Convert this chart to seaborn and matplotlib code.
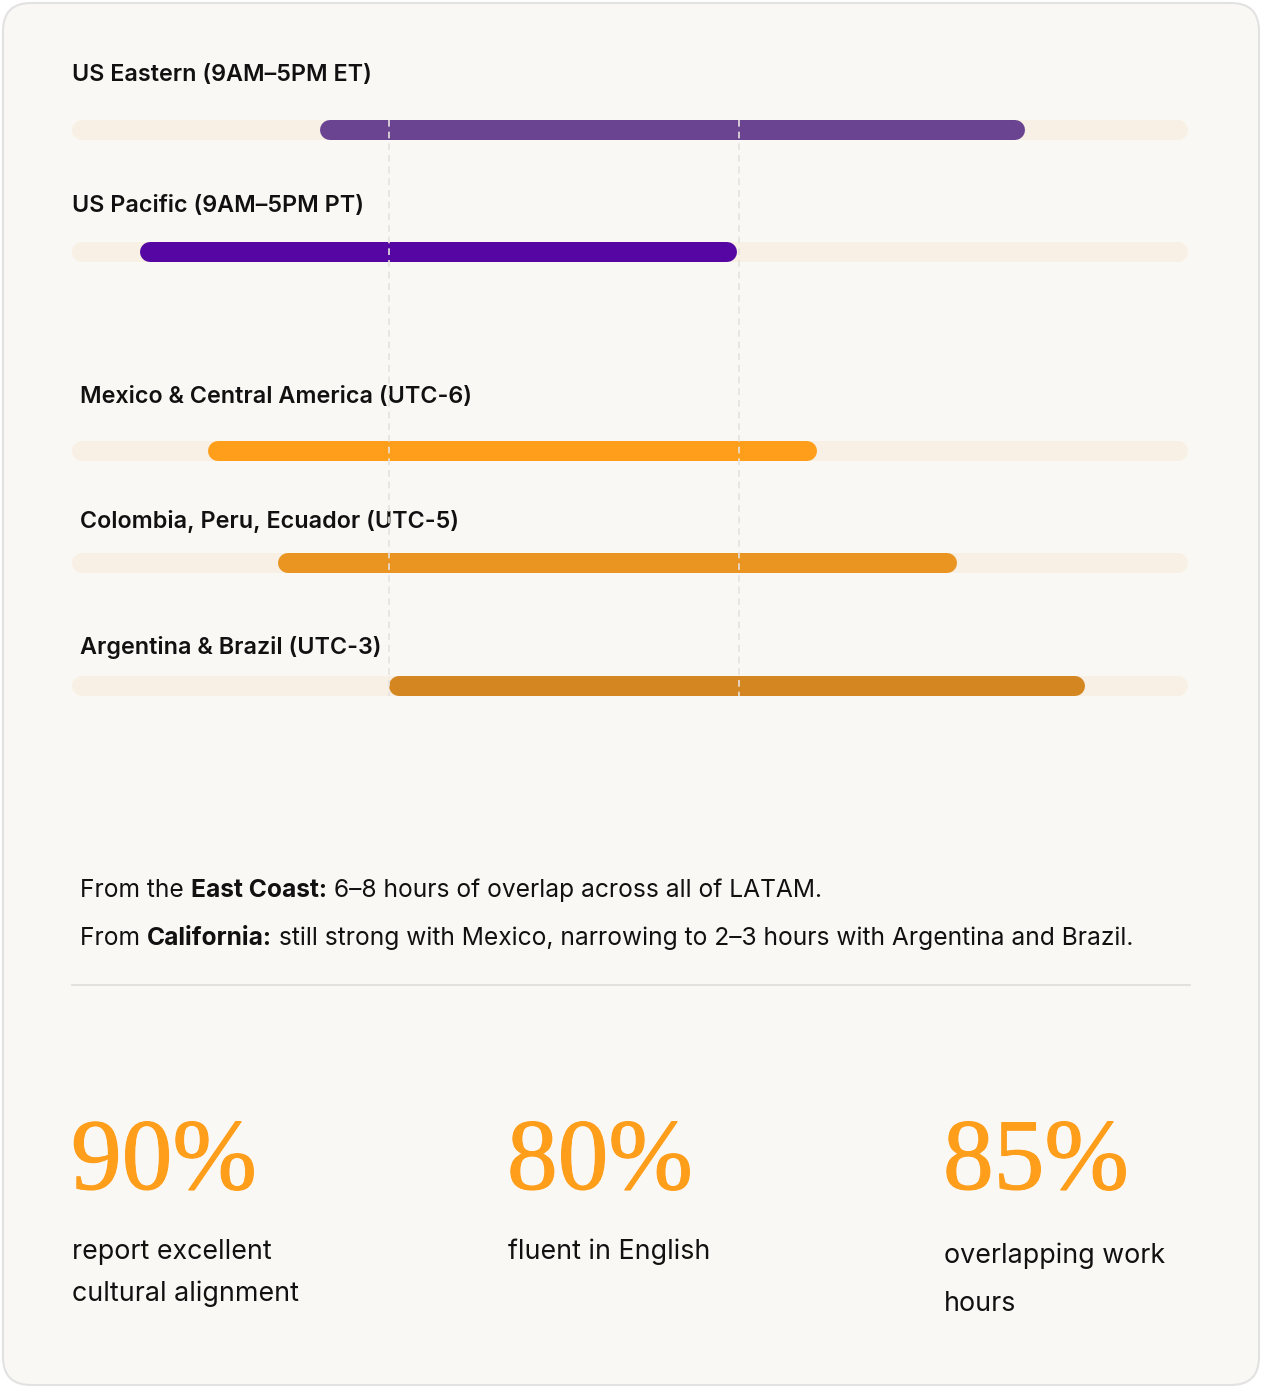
import numpy as np
import pandas as pd
import matplotlib.pyplot as plt
import seaborn as sns
from matplotlib.patches import FancyBboxPatch
import matplotlib.patheffects as pe

# ---- data -------------------------------------------------------------
regions = ["US Eastern (9AM\u20135PM ET)", "US Pacific (9AM\u20135PM PT)",
           "Mexico & Central America (UTC-6)", "Colombia, Peru, Ecuador (UTC-5)",
           "Argentina & Brazil (UTC-3)"]
# share of the track (0-100) covered by the working window
start = [22.2, 6.1, 12.2, 18.5, 28.4]
end = [85.4, 59.6, 66.8, 79.3, 90.8]
colors = ["#6a4391", "#5606a3", "#ff9e1b", "#ea9422", "#d48620"]
overlap_marks = [28.4, 59.8]

notes = [[("From the ", "normal"), ("East Coast:", "bold"),
          (" 6\u20138 hours of overlap across all of LATAM.", "normal")],
         [("From ", "normal"), ("California:", "bold"),
          (" still strong with Mexico, narrowing to 2\u20133 hours with Argentina and Brazil.", "normal")]]

stat_values = ["90%", "80%", "85%"]
stat_captions = [["report excellent", "cultural alignment"],
                 ["fluent in English"],
                 ["overlapping work", "hours"]]

# ---- layout (pixels) --------------------------------------------------
W, H = 1262, 1388
track_x0, track_x1 = 72, 1188
row_y = [130, 252, 451, 563, 686]
label_pos = [(72, 75), (72, 206), (80, 397), (80, 521), (80, 647)]
bar_px = 20

sns.set_theme(style="white")
plt.rcParams["font.family"] = ["Inter", "DejaVu Sans"]

fig = plt.figure(figsize=(W / 100, H / 100), dpi=100)
fig.patch.set_facecolor("white")

lay = fig.add_axes([0, 0, 1, 1])
lay.set_xlim(0, W)
lay.set_ylim(H, 0)
lay.axis("off")

card = FancyBboxPatch((3, 3), W - 6, H - 6, boxstyle="round,pad=0,rounding_size=28",
                      facecolor="#faf8f4", edgecolor="#e2e2e2", linewidth=1.5, zorder=0)
lay.add_patch(card)

ax = fig.add_axes([track_x0 / W, 0, (track_x1 - track_x0) / W, 1])
ax.set_xlim(0, 100)
ax.set_ylim(H, 0)
ax.axis("off")
ax.patch.set_alpha(0)

lw_pt = bar_px * 72 / 100
cap = (bar_px / 2) / (track_x1 - track_x0) * 100

df = pd.DataFrame({"region": regions, "start": start, "end": end, "y": row_y})

for i, r in df.iterrows():
    sns.lineplot(x=[0 + cap, 100 - cap], y=[r.y, r.y], color="#f8f0e5", linewidth=lw_pt,
                 solid_capstyle="round", ax=ax, zorder=2)
    sns.lineplot(x=[r.start + cap, r.end - cap], y=[r.y, r.y], color=colors[i],
                 linewidth=lw_pt, solid_capstyle="round", ax=ax, zorder=3)

for m in overlap_marks:
    ax.vlines(m, row_y[0] - 10, row_y[-1] + 10, colors="#e6e2de", linewidth=1.2,
              linestyles=(0, (4, 3)), zorder=4)

for (lx, ly), name in zip(label_pos, regions):
    lay.text(lx, ly, name, fontsize=16.8, fontweight="semibold", color="#111111",
             va="center", ha="left")

# ---- notes with bold fragments ----------------------------------------
fig.canvas.draw()
renderer = fig.canvas.get_renderer()
for k, parts in enumerate(notes):
    x = 80
    y = 890 + k * 48
    for txt, weight in parts:
        t = lay.text(x, y, txt, fontsize=17.7, fontweight=weight, color="#111111",
                     va="center", ha="left")
        x += t.get_window_extent(renderer).width

lay.plot([72, 1190], [985, 985], color="#e3e1de", linewidth=1.5)

# ---- stats -----------------------------------------------------------
stat_x = [72, 508, 944]
cap_y0 = [1252, 1252, 1256]
cap_gap = [42, 42, 48]
for j, val in enumerate(stat_values):
    lay.text(stat_x[j] - 1, 1189, val, fontsize=73, color="#ff9e1b", va="baseline",
             ha="left", family=["Liberation Serif", "DejaVu Serif"],
             path_effects=[pe.withStroke(linewidth=0.8, foreground="#ff9e1b")])
    for n, line in enumerate(stat_captions[j]):
        lay.text(stat_x[j], cap_y0[j] + n * cap_gap[j], line, fontsize=19.3,
                 color="#111111", va="center", ha="left")

fig.savefig("out.png", dpi=100, facecolor="white")
